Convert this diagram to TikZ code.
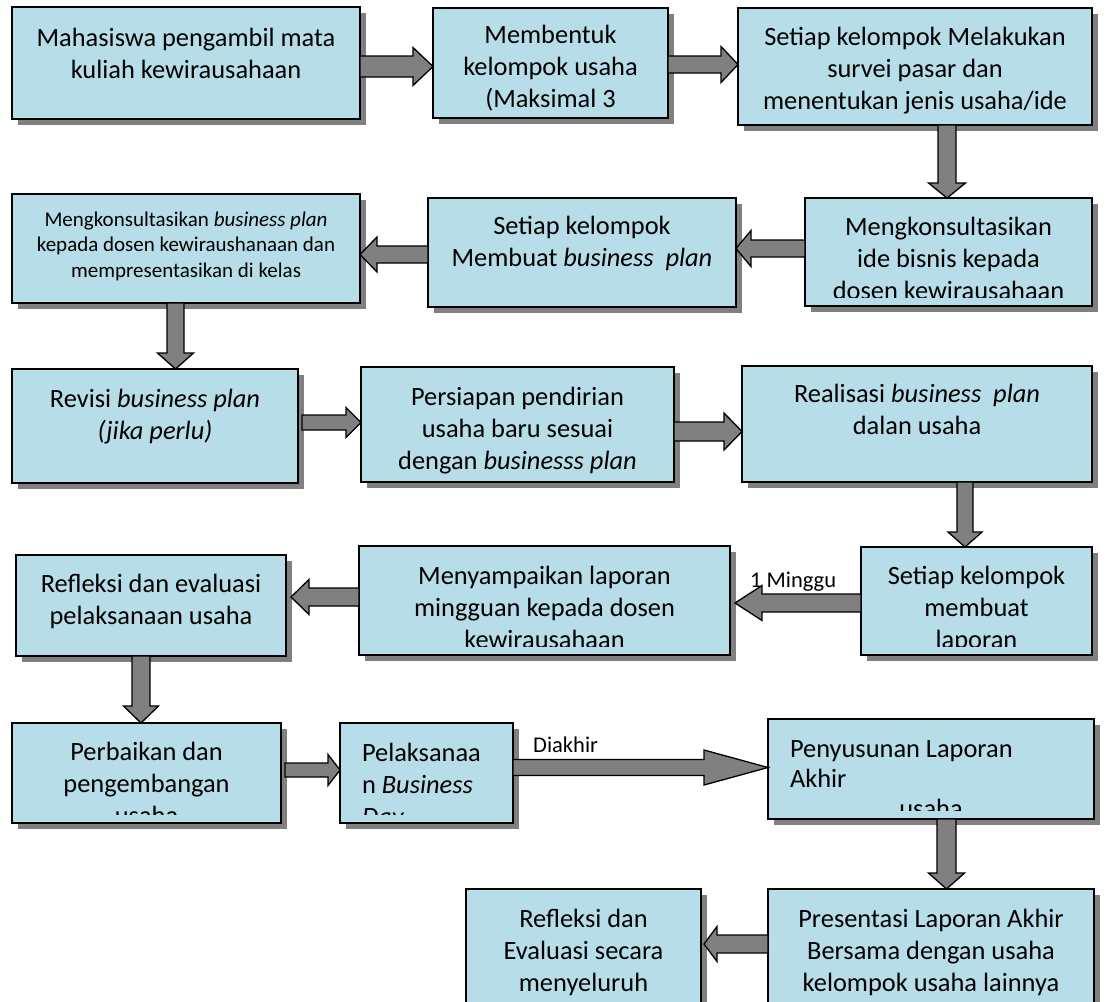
\documentclass[tikz,border=0pt]{standalone}
\usepackage{fontspec}
\setmainfont{Carlito}
\usetikzlibrary{calc,shadows}

\definecolor{cardfill}{HTML}{B7DDE8}
\definecolor{cardshadow}{HTML}{808080}
\definecolor{arrowfill}{HTML}{808080}

\tikzset{
  card/.style={draw=black, line width=1.6pt, fill=cardfill, rectangle,
    inner sep=0pt, outer sep=0pt, anchor=north west,
    drop shadow={shadow xshift=5.5pt, shadow yshift=-5.5pt,
      fill=cardshadow, opacity=1, draw=none}},
  cardtext/.style={inner sep=0pt, outer sep=0pt, align=center, anchor=north,
    font=\fontsize{26.4}{32}\selectfont},
  cardtextleft/.style={cardtext, align=left, anchor=north west},
  smalltext/.style={cardtext, font=\fontsize{21}{25.5}\selectfont},
  flowarrow/.style={draw=black, line width=1.3pt, fill=arrowfill, line join=miter},
  steplabel/.style={inner sep=0pt, anchor=base west,
    font=\fontsize{22.5}{27}\selectfont},
}

% fixed-height strut so that every text block starts from its first baseline
\newcommand\firstline{\rule{0pt}{21pt}}

% box: name, left, top, width, height (pixel units, y measured downwards)
\newcommand\card[5]{%
  \node[card, minimum width=#4pt, minimum height=#5pt] (#1) at (#2,-#3) {};}

% text inside a box, clipped a little above its lower edge
% [#1 clearance above the lower edge] #2 style, #3 box name, #4 drop of the text block, #5 lines
\newcommand\cardlines[5][8.5]{%
  \begin{scope}
    \clip (#3.north west) rectangle ([yshift=#1pt]#3.south east);
    \node[#2] at ([yshift=-#4pt]#3.north) {\firstline #5};
  \end{scope}}

% block arrow: start, end, shaft half width, head half width, head length
\newcommand\blockarrow[5]{%
  \draw[flowarrow] let \p1=#1, \p2=#2,
      \n1={atan2(\y2-\y1,\x2-\x1)}, \n2={veclen(\x2-\x1,\y2-\y1)} in
    ($(\p1)+(\n1+90:#3)$)
    -- ($(\p1)+(\n1:\n2-#5)+(\n1+90:#3)$)
    -- ($(\p1)+(\n1:\n2-#5)+(\n1+90:#4)$)
    -- (\p2)
    -- ($(\p1)+(\n1:\n2-#5)+(\n1-90:#4)$)
    -- ($(\p1)+(\n1:\n2-#5)+(\n1-90:#3)$)
    -- ($(\p1)+(\n1-90:#3)$) -- cycle;}

\begin{document}
\begin{tikzpicture}[x=1pt, y=1pt]
\useasboundingbox (0,0) rectangle (1107,-1001);
\clip (0,0) rectangle (1107,-1001);

% ---- boxes ----
\card{a}{12}{7}{348}{112}
\card{b}{433}{8}{235}{110}
\card{c}{738}{8}{354}{117}
\card{d}{805}{198}{287}{108}
\card{e}{428}{198}{308}{109}
\card{f}{12}{194}{348}{109}
\card{g}{12}{369}{286}{114}
\card{h}{361}{367}{313}{115}
\card{i}{742}{366}{350}{116}
\card{j}{861}{547}{231}{108}
\card{k}{359}{546}{371}{109}
\card{l}{16}{555}{270}{101}
\card{m}{12}{723}{269}{100}
\card{n}{340}{723}{173}{100}
\card{o}{768}{719}{326}{100}
\card{p}{466}{889}{235}{140}
\card{q}{768}{889}{326}{140}

% ---- texts ----
\cardlines{cardtext}{a}{18}{Mahasiswa pengambil mata\\kuliah kewirausahaan}
\cardlines[6]{cardtext}{b}{14}{Membentuk\\kelompok usaha\\(Maksimal 3}
\cardlines{cardtext}{c}{16}{Setiap kelompok Melakukan\\survei pasar dan\\menentukan jenis usaha/ide}
\cardlines{cardtext}{d}{16}{Mengkonsultasikan\\ide bisnis kepada\\dosen kewirausahaan}
\cardlines{cardtext}{e}{15}{Setiap kelompok\\Membuat \textit{business~~plan}}
\cardlines{smalltext}{f}{11}{Mengkonsultasikan \textit{business plan}\\kepada dosen kewiraushanaan dan\\mempresentasikan di kelas}
\cardlines{cardtext}{g}{17}{Revisi \textit{business plan}\\\textit{(jika perlu)}}
\cardlines{cardtext}{h}{17}{Persiapan pendirian\\usaha baru sesuai\\dengan \textit{businesss plan}}
\cardlines{cardtext}{i}{15}{Realisasi \textit{business~~plan}\\dalan usaha}
\cardlines{cardtext}{j}{16}{Setiap kelompok\\membuat\\laporan}
\cardlines{cardtext}{k}{17}{Menyampaikan laporan\\mingguan kepada dosen\\kewirausahaan}
\cardlines{cardtext}{l}{16}{Refleksi dan evaluasi\\pelaksanaan usaha}
\cardlines{cardtext}{m}{16}{Perbaikan dan\\pengembangan\\usaha}
\begin{scope}
  \clip (n.north west) rectangle ([yshift=8.5pt]n.south east);
  \node[cardtextleft] at ([xshift=22pt,yshift=-17pt]n.north west)
    {\firstline Pelaksanaa\\n \textit{Business}\\\textit{Day}};
\end{scope}
\begin{scope}
  \clip (o.north west) rectangle ([yshift=8.5pt]o.south east);
  \node[cardtextleft, font=\fontsize{26.4}{30}\selectfont]
    at ([xshift=22pt,yshift=-17pt]o.north west)
    {\firstline Penyusunan Laporan\\Akhir};
  \node[cardtext, anchor=base] at ([yshift=-98pt]o.north) {usaha};
\end{scope}
\cardlines{cardtext}{p}{17}{Refleksi dan\\Evaluasi secara\\menyeluruh}
\cardlines{cardtext}{q}{17}{Presentasi Laporan Akhir\\Bersama dengan usaha\\kelompok usaha lainnya}

% ---- connectors ----
\blockarrow{(a.east |- 0,-66.5)}{(b.west |- 0,-66.5)}{10.5pt}{19pt}{20pt}
\blockarrow{(b.east |- 0,-64.5)}{(c.west |- 0,-64.5)}{8.5pt}{18pt}{17pt}
\blockarrow{(c.south -| 947,0)}{(d.north -| 947,0)}{9pt}{18.5pt}{15pt}
\blockarrow{(d.west |- 0,-248.5)}{(e.east |- 0,-248.5)}{8.5pt}{18pt}{15pt}
\blockarrow{(e.west |- 0,-254.5)}{(f.east |- 0,-254.5)}{8.5pt}{17.5pt}{17pt}
\blockarrow{(f.south -| 175.5,0)}{(g.north -| 175.5,0)}{8.5pt}{18pt}{16pt}
\blockarrow{([xshift=4pt]g.east |- 0,-422.5)}{(h.west |- 0,-422.5)}{7.5pt}{15pt}{15pt}
\blockarrow{(h.east |- 0,-431.5)}{(i.west |- 0,-431.5)}{9.5pt}{18.5pt}{18pt}
\blockarrow{(i.south -| 965,0)}{(j.north -| 965,0)}{8pt}{17pt}{15pt}
\blockarrow{(j.west |- 0,-603)}{([xshift=5pt]k.east |- 0,-603)}{9pt}{17.5pt}{27pt}
\blockarrow{(k.west |- 0,-597)}{([xshift=5pt]l.east |- 0,-597)}{9pt}{17.5pt}{18pt}
\blockarrow{(l.south -| 141,0)}{(m.north -| 141,0)}{9pt}{17.5pt}{17pt}
\blockarrow{([xshift=4pt]m.east |- 0,-770)}{(n.west |- 0,-770)}{7pt}{15.5pt}{12pt}
\blockarrow{(n.east |- 0,-767.5)}{(o.west |- 0,-767.5)}{8pt}{17.5pt}{64pt}
\blockarrow{(o.south -| 946.5,0)}{(q.north -| 946.5,0)}{9.5pt}{18pt}{16pt}
\blockarrow{(q.west |- 0,-944)}{([xshift=3pt]p.east |- 0,-944)}{9pt}{17.5pt}{13pt}

% ---- connector labels ----
\node[steplabel] (wk) at (750,-587) {1 Minggu};
\node[steplabel] (end) at (533,-752) {Diakhir};
\end{tikzpicture}
\end{document}
